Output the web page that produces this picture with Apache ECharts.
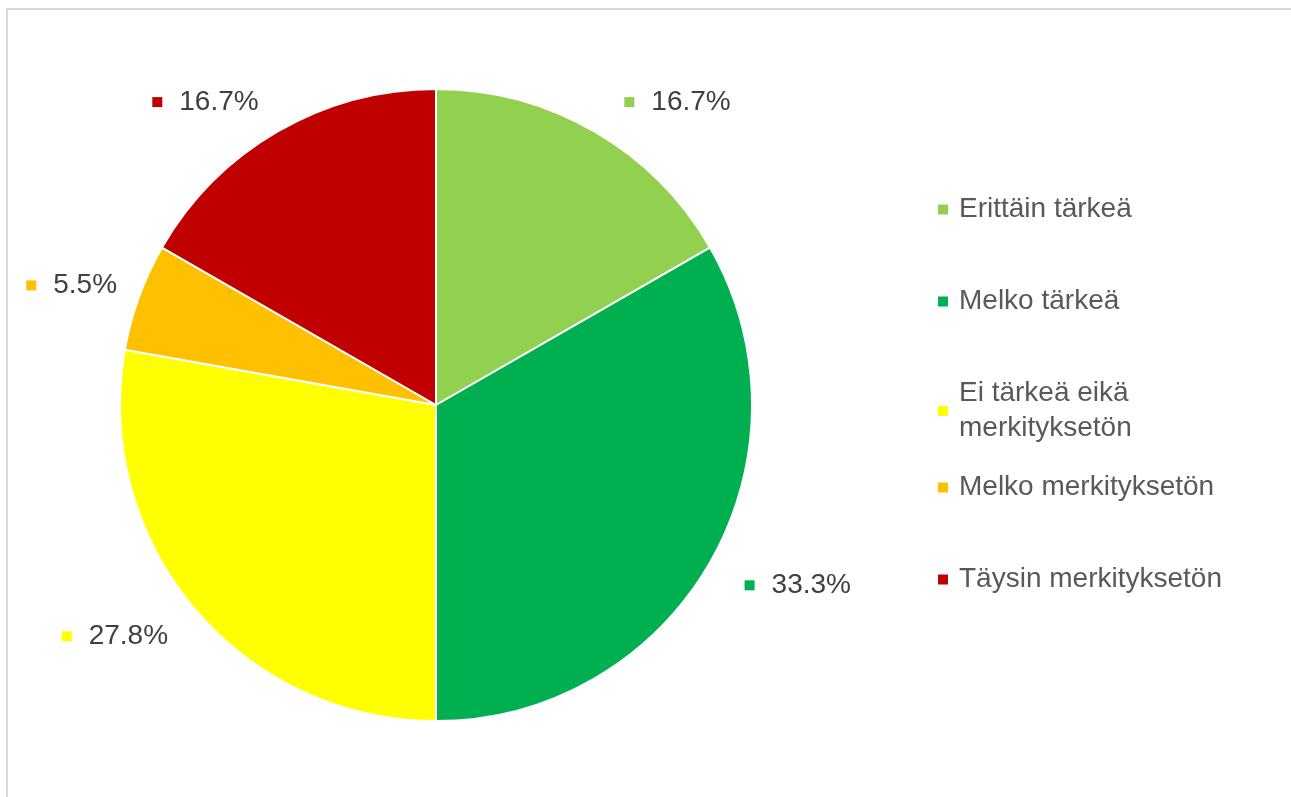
<!DOCTYPE html>
<html>
<head>
<meta charset="utf-8">
<script src="https://cdn.jsdelivr.net/npm/echarts@6/dist/echarts.min.js"></script>
<style>
  html, body { margin: 0; padding: 0; background: #fff; }
  #chart { width: 1291px; height: 797px; }
</style>
</head>
<body>
<div id="chart"></div>
<script>
// vastaukset
var categories = ['Erittäin tärkeä', 'Melko tärkeä', 'Ei tärkeä eikä merkityksetön', 'Melko merkityksetön', 'Täysin merkityksetön'];
var shares = [16.7, 33.3, 27.8, 5.5, 16.7];
var colors = ['#92D050', '#00B050', '#FFFF00', '#FFC000', '#C00000'];
// label distance tweaks per slice (radial / horizontal)
var labelLen = [34, 44, 44, 34, 34];
var labelShift = [8, -8, -13, -15, -3];

var chart = echarts.init(document.getElementById('chart'));

var pieData = categories.map(function (name, i) {
  return {
    name: name,
    value: shares[i],
    itemStyle: { color: colors[i] },
    labelLine: { length: labelLen[i], length2: labelShift[i] },
    label: {
      rich: {
        m: { width: 10, height: 10, backgroundColor: colors[i] },
        s: { width: 17 }
      }
    }
  };
});

var legendBase = {
  orient: 'vertical',
  left: 936,
  padding: 0,
  itemWidth: 12,
  itemHeight: 12,
  itemGap: 57,
  icon: 'rect',
  formatter: function (name) {
    return name === 'Ei tärkeä eikä merkityksetön' ? 'Ei tärkeä eikä\nmerkityksetön' : name;
  },
  textStyle: {
    fontFamily: 'Liberation Sans, Arial, sans-serif',
    fontSize: 28,
    lineHeight: 35,
    color: '#595959',
    padding: [0, 0, 0, 5]
  }
};

chart.setOption({
  animation: false,
  backgroundColor: '#fff',
  graphic: [{
    type: 'rect',
    shape: { x: 7, y: 9, width: 1320, height: 820 },
    style: { fill: 'none', stroke: '#d9d9d9', lineWidth: 2 },
    silent: true
  }],
  // excel spaces the entries evenly by first line, so split in two blocks
  legend: [
    Object.assign({}, legendBase, { top: 192, data: categories.slice(0, 3) }),
    Object.assign({}, legendBase, { top: 470, data: categories.slice(3) })
  ],
  series: [{
    type: 'pie',
    center: [436, 405],
    radius: 316,
    startAngle: 90,
    clockwise: true,
    avoidLabelOverlap: false,
    itemStyle: { borderColor: '#fff', borderWidth: 2 },
    label: {
      show: true,
      position: 'outside',
      formatter: '{m|}{s|}{c}%',
      fontFamily: 'Liberation Sans, Arial, sans-serif',
      fontSize: 28,
      color: '#404040'
    },
    labelLine: { show: false },
    emphasis: { disabled: true },
    data: pieData
  }]
});
</script>
</body>
</html>
